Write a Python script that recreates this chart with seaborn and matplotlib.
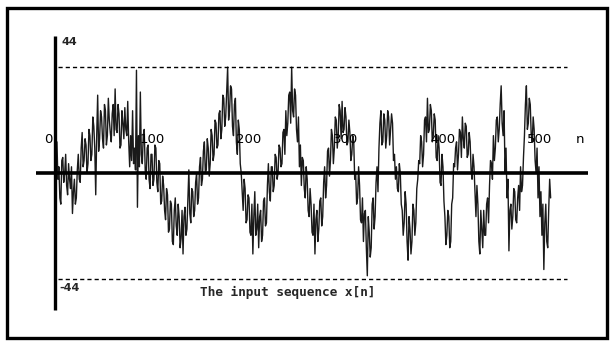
import numpy as np
import pandas as pd
import matplotlib
matplotlib.use("Agg")
import matplotlib.pyplot as plt
import seaborn as sns
from matplotlib.patches import Rectangle

# --- data: x[n], n = 0..511 (16 samples per row) ---
n_values = np.arange(512)
x_values = [
    0, 5, 10, -2, 2, -8, -10, 4, 5, -3, 0, 6, -4, -7, 3, -2,
    -5, 2, -13, -6, -2, -10, -8, 1, 6, -2, -3, 8, 13, 2, 4, 11,
    9, 0, 3, 14, 12, 4, 6, 18, 15, 8, -7, 12, 25, 7, 11, 20,
    18, 11, 8, 22, 20, 9, 12, 24, 17, 13, 10, 19, 22, 12, 27, 14,
    13, 22, 19, 8, 9, 20, 16, 11, 21, 14, 12, 23, 10, 2, 12, 4,
    20, 3, 8, 1, 33, -11, 12, 2, 26, 6, 3, 12, 14, 1, -2, 8,
    9, -2, -5, 6, 6, -4, -2, 9, 8, -3, -6, 4, 3, -10, -9, -1,
    -4, -12, -15, -5, -7, -19, -18, -9, -10, -22, -23, -12, -8, -17, -20, -10,
    -14, -24, -21, -12, -26, -14, -11, -20, -18, -8, 1, -13, -16, -5, -6, -14,
    -12, -3, 0, -10, -8, 2, 5, -4, -2, 7, 10, 0, 1, 11, 8, -1,
    3, 14, 12, 4, 6, 17, 16, 8, 9, 19, 20, 11, 14, 25, 24, 15,
    18, 26, 34, 17, 20, 28, 27, 15, 12, 22, 24, 10, 6, 17, 14, 3,
    0, -6, -12, -2, -5, -16, -15, -7, -8, -19, -20, -10, -26, -14, -6, -20,
    -18, -10, -24, -14, -12, -22, -20, -9, -8, -17, -16, -4, 3, -6, -9, 2,
    2, -6, -4, 6, 5, -2, 0, 9, 8, 2, 3, 13, 14, 6, 20, 12,
    16, 25, 26, 16, 34, 20, 18, 27, 25, 14, 10, 18, 2, 9, -4, 5,
    4, -5, -8, 2, -2, -12, -14, -5, -10, -19, -20, -10, -26, -15, -12, -22,
    -18, -9, -8, -17, -14, -3, 2, -8, -4, 7, 8, -1, 4, 14, 12, 3,
    8, 18, 17, 8, 12, 22, 20, 11, 23, 13, 14, 21, 18, 9, 10, 17,
    13, 4, 6, 12, 10, -2, 0, -10, -8, 2, -4, -15, -16, -8, -22, -13,
    -12, -24, -33, -14, -19, -27, -24, -10, -8, -18, -14, -3, 2, -6, 8, 16,
    20, 9, 10, 19, 17, 8, 12, 20, 18, 9, 14, 19, 16, 4, 6, -2,
    2, -5, -6, 3, 0, -10, -12, -20, -16, -6, -10, -22, -28, -14, -18, -26,
    -22, -10, -12, -20, -16, -5, -2, 4, 3, 12, 10, 2, 6, 17, 18, 10,
    24, 13, 14, 22, 20, 10, 12, 19, 17, 5, 4, 12, 8, -3, -4, 6,
    2, -9, -14, -23, -20, -12, -14, -24, -22, -10, -8, 3, 2, 8, 10, 1,
    6, 14, 13, 5, 18, 11, 8, 16, 15, 5, 6, 13, 10, 1, -2, 6,
    2, -6, -14, -4, -10, -22, -26, -12, -18, -24, -12, -20, -20, -10, -8, -16,
    -4, 4, 3, -2, 12, 4, 8, 17, 18, 10, 14, 22, 28, 16, 12, 20,
    0, 8, -8, -2, -25, -12, -10, -18, -14, -5, -6, -15, -16, -8, -4, -12,
    2, -6, -4, 5, 12, 22, 28, 14, 16, 24, 22, 12, 10, 18, 14, 4,
    0, 8, -8, 2, -14, -6, -20, -10, -31, -16, -10, -22, -24, -12, -2, -8,
]
x_ticks = [100, 200, 300, 400, 500]
y_limit = 44
peak = 34
title = "The input sequence x[n]"

df = pd.DataFrame({"n": n_values, "x": x_values})

sns.set_style("white")
plt.rcParams["font.family"] = ["DejaVu Sans"]

fig = plt.figure(figsize=(6.13, 3.41), dpi=100)
ax = fig.add_axes([0, 0, 1, 1])
ax.set_xlim(-56.7, 575.3)
ax.set_ylim(-53.95, 55.56)
ax.axis("off")

# outer frame
fig.patches.append(Rectangle((7 / 613, 3 / 341), 600 / 613, 330 / 341,
                             transform=fig.transFigure, fill=False,
                             edgecolor="black", linewidth=2.4))

# the signal
sns.lineplot(data=df, x="n", y="x", ax=ax, color="0.1", linewidth=1.0,
             estimator=None, sort=False)
ax.set_xlabel("")
ax.set_ylabel("")

# axes lines
ax.vlines(0, -y_limit, y_limit, color="black", linewidth=2.4)
ax.hlines(0, -19.6, 549.5, color="black", linewidth=2.6)

# amplitude limits
ax.hlines([peak, -peak], 3, 528, color="black", linewidth=1.0,
          linestyles=(0, (3, 2.2)))

# labels
ax.text(7, 42, str(y_limit), fontsize=8, fontweight="bold", va="center", ha="left")
ax.text(5, -37, f"-{y_limit}", fontsize=8, fontweight="bold", va="center", ha="left")
ax.text(-7, 10.6, "0", fontsize=9.5, va="center", ha="center", color="black")
for t in x_ticks:
    ax.text(t, 10.6, str(t), fontsize=9.5, va="center", ha="center", color="black")
ax.text(541, 10.6, "n", fontsize=9.5, va="center", ha="center", color="black")
ax.text(240, -38.5, title, family="DejaVu Sans Mono", fontsize=9.2,
        fontweight="bold", va="center", ha="center")

fig.savefig("out.png", dpi=100)
